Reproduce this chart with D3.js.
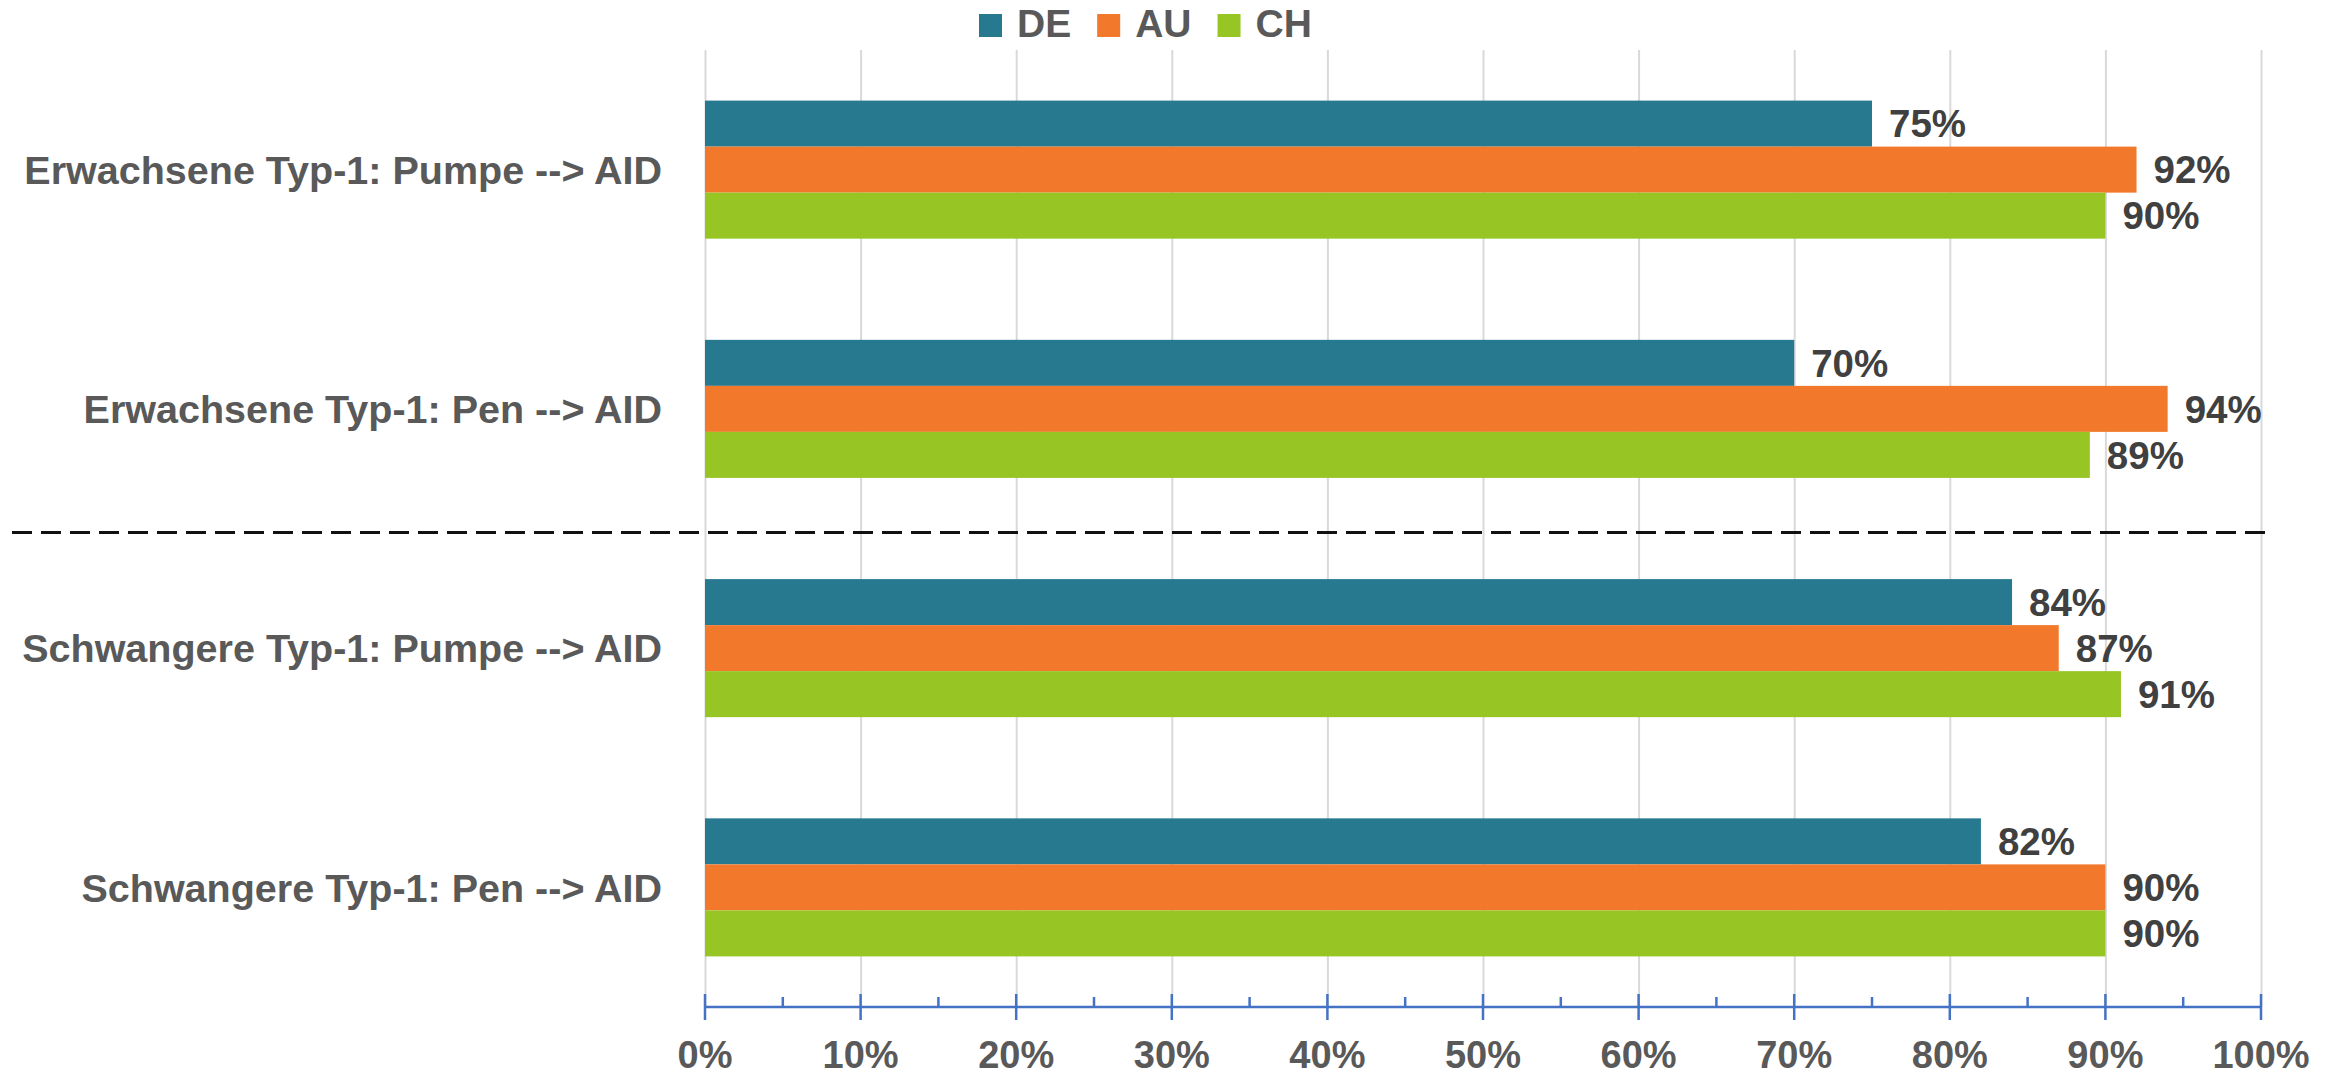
<!DOCTYPE html>
<html>
<head>
<meta charset="utf-8">
<script src="https://cdn.jsdelivr.net/npm/d3@7"></script>
<style>
    body { margin: 0; background: #fff; }
    text { font-family: "Liberation Sans", Arial, sans-serif; font-weight: bold; }
    .grid line { stroke: #d9d9d9; stroke-width: 2; }
    .grid path { display: none; }
</style>
</head>
<body>
<div id="chart"></div>
<script>
let canvasWidth = 2341;
let canvasHeight = 1077;

// data
let categories = [
    "Erwachsene Typ-1: Pumpe --> AID",
    "Erwachsene Typ-1: Pen --> AID",
    "Schwangere Typ-1: Pumpe --> AID",
    "Schwangere Typ-1: Pen --> AID"
];
let seriesNames = ["DE", "AU", "CH"];
let valuesDE = [75, 70, 84, 82];
let valuesAU = [92, 94, 87, 90];
let valuesCH = [90, 89, 91, 90];
let tickValues = [0, 10, 20, 30, 40, 50, 60, 70, 80, 90, 100];
let minorTicks = [5, 15, 25, 35, 45, 55, 65, 75, 85, 95];
let colors = ["#26798f", "#f2792b", "#96c524"];

let plotLeft = 705, plotRight = 2261, plotTop = 50, plotBottom = 1007;

let svg = d3.select("div#chart")
    .append("svg")
    .attr("width", canvasWidth)
    .attr("height", canvasHeight);

let xScale = d3.scaleLinear().domain([0, 100]).range([plotLeft, plotRight]);
let yScale = d3.scaleBand().domain(categories).range([plotTop, plotBottom])
    .paddingInner(0.423).paddingOuter(0.2115);
let subScale = d3.scaleBand().domain(seriesNames).range([0, yScale.bandwidth()]);

// vertical grid lines
svg.append("g")
    .attr("class", "grid")
    .attr("transform", "translate(0, " + plotTop + ")")
    .call(d3.axisBottom(xScale)
        .tickValues(tickValues)
        .tickSize(plotBottom - plotTop)
        .tickFormat(""));

let rows = categories.map((c, i) => ({
    cat: c,
    vals: [valuesDE[i], valuesAU[i], valuesCH[i]]
}));

let groups = svg.selectAll("g.group")
    .data(rows)
    .enter()
    .append("g")
    .attr("class", "group")
    .attr("transform", d => "translate(0, " + yScale(d.cat) + ")");

groups.selectAll("rect")
    .data(d => d.vals.map((v, j) => ({ name: seriesNames[j], value: v, color: colors[j] })))
    .enter()
    .append("rect")
    .attr("x", xScale(0))
    .attr("y", d => subScale(d.name))
    .attr("width", d => xScale(d.value) - xScale(0))
    .attr("height", subScale.bandwidth())
    .attr("fill", d => d.color);

// value labels
groups.selectAll("text.val")
    .data(d => d.vals.map((v, j) => ({ name: seriesNames[j], value: v })))
    .enter()
    .append("text")
    .attr("class", "val")
    .attr("x", d => xScale(d.value) + 17)
    .attr("y", d => subScale(d.name) + subScale.bandwidth() / 2)
    .attr("dy", "0.36em")
    .attr("font-size", 38.5)
    .attr("fill", "#404040")
    .text(d => d.value + "%");

// category labels
svg.selectAll("text.cat")
    .data(categories)
    .enter()
    .append("text")
    .attr("class", "cat")
    .attr("x", plotLeft - 43)
    .attr("y", d => yScale(d) + yScale.bandwidth() / 2)
    .attr("dy", "0.36em")
    .attr("text-anchor", "end")
    .attr("font-size", 39.5)
    .attr("fill", "#595959")
    .text(d => d);

// dashed separator between adults and pregnant
let sepY = (yScale(categories[1]) + yScale.bandwidth() + yScale(categories[2])) / 2 + 4;
svg.append("line")
    .attr("x1", 12)
    .attr("x2", plotRight + 6)
    .attr("y1", sepY)
    .attr("y2", sepY)
    .attr("stroke", "#111")
    .attr("stroke-width", 3)
    .attr("stroke-dasharray", "20,9");

// x axis
let axis = svg.append("g")
    .attr("transform", "translate(0, " + plotBottom + ")");
axis.append("line")
    .attr("x1", xScale(0)).attr("x2", xScale(100))
    .attr("stroke", "#4472c4").attr("stroke-width", 2.5);
axis.selectAll("line.major")
    .data(tickValues)
    .enter()
    .append("line")
    .attr("class", "major")
    .attr("x1", d => xScale(d)).attr("x2", d => xScale(d))
    .attr("y1", -13).attr("y2", 13)
    .attr("stroke", "#4472c4").attr("stroke-width", 2.5);
axis.selectAll("line.minor")
    .data(minorTicks)
    .enter()
    .append("line")
    .attr("class", "minor")
    .attr("x1", d => xScale(d)).attr("x2", d => xScale(d))
    .attr("y1", -10).attr("y2", 0)
    .attr("stroke", "#4472c4").attr("stroke-width", 2.5);
axis.selectAll("text")
    .data(tickValues)
    .enter()
    .append("text")
    .attr("x", d => xScale(d))
    .attr("y", 61)
    .attr("text-anchor", "middle")
    .attr("font-size", 38)
    .attr("fill", "#595959")
    .text(d => d + "%");

// legend
let legend = svg.append("g");
let lx = 979;
seriesNames.forEach((name, i) => {
    legend.append("rect")
        .attr("x", lx).attr("y", 14)
        .attr("width", 23).attr("height", 23)
        .attr("fill", colors[i]);
    let t = legend.append("text")
        .attr("x", lx + 38).attr("y", 37)
        .attr("font-size", 39)
        .attr("fill", "#595959")
        .text(name);
    lx += 38 + t.node().getComputedTextLength() + 26;
});
</script>
</body>
</html>
